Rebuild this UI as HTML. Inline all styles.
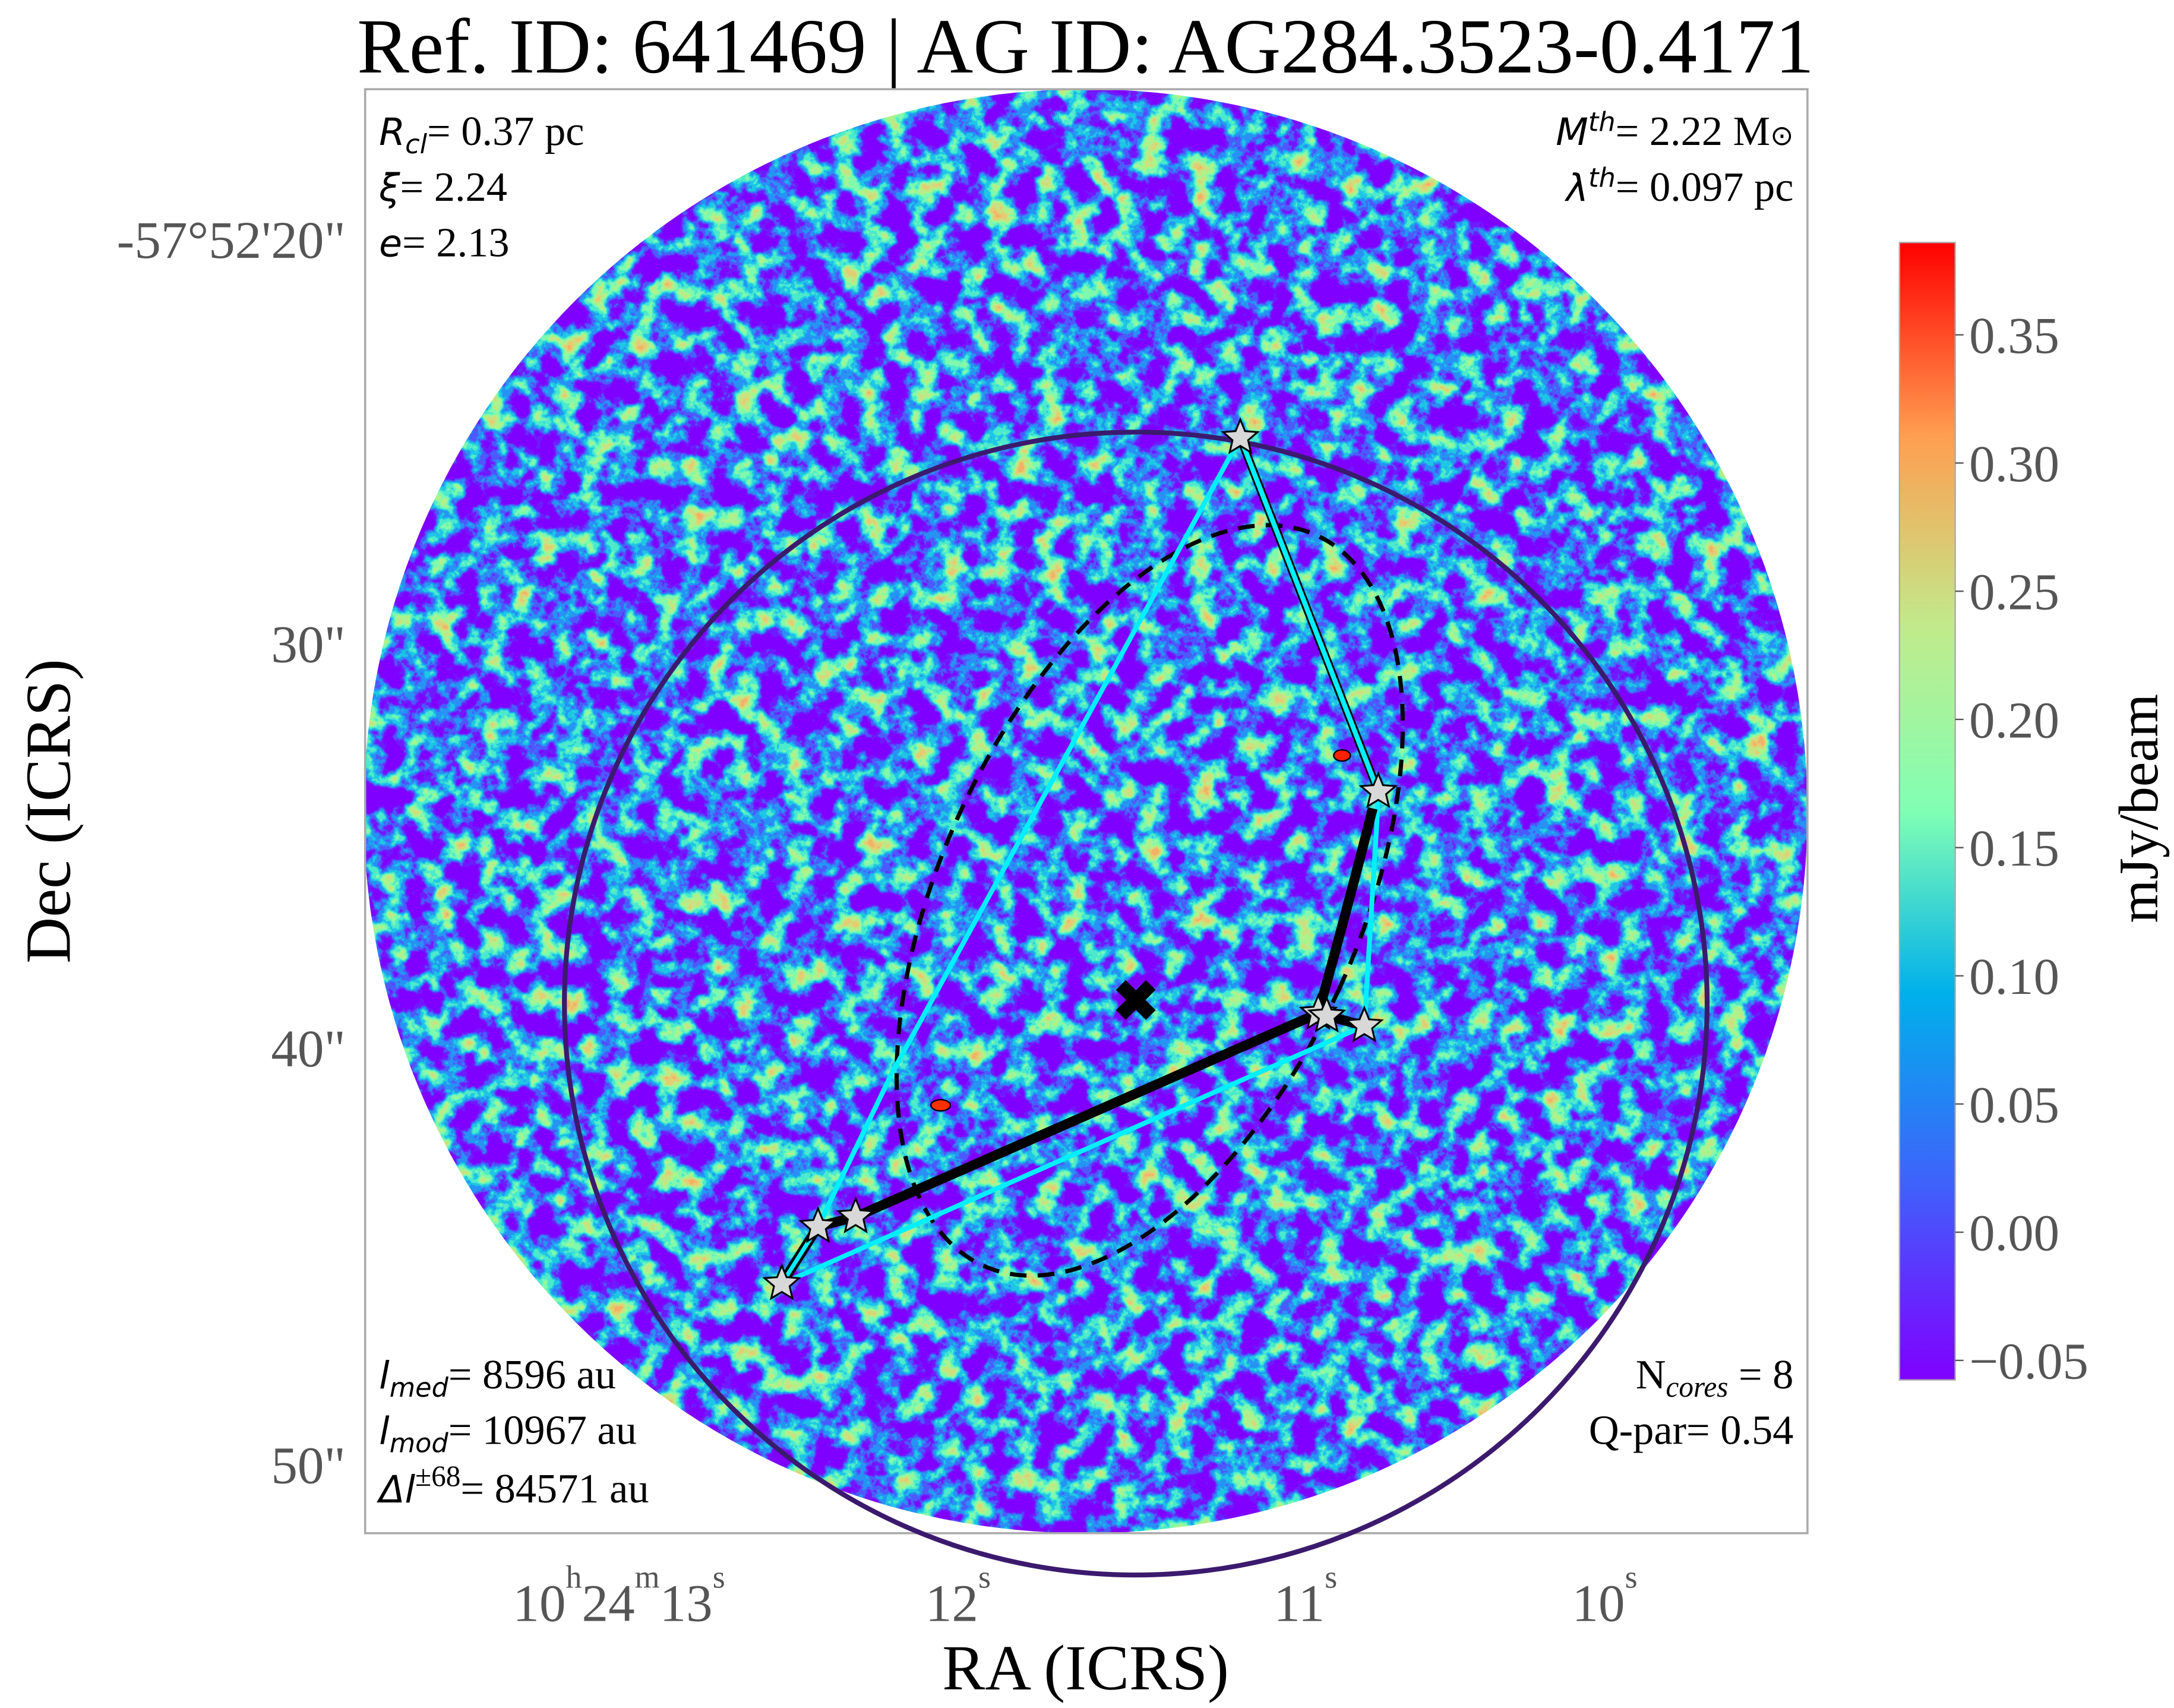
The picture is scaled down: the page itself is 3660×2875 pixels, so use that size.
<!DOCTYPE html>
<html><head><meta charset="utf-8"><style>
html,body{margin:0;padding:0;background:#fff;}
svg{display:block;}
text{font-family:"Liberation Serif",serif;}
</style></head><body>
<svg width="3660" height="2875" viewBox="0 0 1560 1225.4" xmlns="http://www.w3.org/2000/svg">
<defs>
<clipPath id="frameClip"><rect x="262" y="64" width="1035" height="1036"/></clipPath>
<clipPath id="discClip"><circle cx="779" cy="582" r="518"/></clipPath>
<filter id="noise" x="0" y="0" width="100%" height="100%" filterUnits="userSpaceOnUse" color-interpolation-filters="sRGB">
<feTurbulence type="fractalNoise" baseFrequency="0.055" numOctaves="4" seed="7" result="t"/>
<feColorMatrix in="t" type="matrix" values="1 0 0 0 0  1 0 0 0 0  1 0 0 0 0  0 0 0 0 1" result="g"/>
<feComponentTransfer in="g">
<feFuncR type="discrete" tableValues="0.5 0.5 0.5 0.5 0.5 0.5 0.5 0.5 0.44 0.3 0.15 0.12 0.3 0.5 0.68 0.8 0.9 0.95 0.95 0.95"/>
<feFuncG type="discrete" tableValues="0 0 0 0 0 0 0 0 0.1 0.35 0.58 0.78 0.92 0.98 0.95 0.88 0.8 0.7 0.7 0.7"/>
<feFuncB type="discrete" tableValues="1 1 1 1 1 1 1 1 1 0.99 0.96 0.9 0.8 0.68 0.55 0.5 0.45 0.4 0.4 0.4"/>
<feFuncA type="discrete" tableValues="1"/>
</feComponentTransfer>
</filter>
<linearGradient id="cbar" x1="0" y1="1" x2="0" y2="0">
<stop offset="0" stop-color="#8000ff"/><stop offset="0.17" stop-color="#4060fb"/>
<stop offset="0.34" stop-color="#00b0eb"/><stop offset="0.5" stop-color="#80ffb4"/>
<stop offset="0.66" stop-color="#c0eb8c"/><stop offset="0.83" stop-color="#ff9e50"/>
<stop offset="1" stop-color="#ff0000"/>
</linearGradient>
</defs>

<text x="779" y="52" font-size="56" text-anchor="middle" fill="#000">Ref. ID: 641469 | AG ID: AG284.3523-0.4171</text>

<g clip-path="url(#frameClip)">
<g clip-path="url(#discClip)">
<rect x="261" y="64" width="1036" height="1036" filter="url(#noise)"/>
</g>
</g>
<rect x="262" y="64" width="1035" height="1036" fill="none" stroke="#aaa" stroke-width="1.5"/>

<g id="marks"></g>

<rect x="1363" y="174" width="40" height="816" fill="url(#cbar)" stroke="#aaa" stroke-width="1"/>
<g id="cbticks"></g>
<text transform="translate(1548,580) rotate(-90)" font-size="40" text-anchor="middle">mJy/beam</text>

<g fill="#555" font-size="38">
<text x="248" y="185" text-anchor="end">-57°52'20"</text>
<text x="248" y="475" text-anchor="end">30"</text>
<text x="248" y="765" text-anchor="end">40"</text>
<text x="248" y="1064" text-anchor="end">50"</text>
</g>
<g fill="#555" font-size="38">
<text x="368" y="1163">10<tspan font-size="23" dy="-24">h</tspan><tspan dy="24">24</tspan><tspan font-size="23" dy="-24">m</tspan><tspan dy="24">13</tspan><tspan font-size="23" dy="-24">s</tspan></text>
<text x="664" y="1163">12<tspan font-size="23" dy="-24">s</tspan></text>
<text x="914" y="1163">11<tspan font-size="23" dy="-24">s</tspan></text>
<text x="1128" y="1163">10<tspan font-size="23" dy="-24">s</tspan></text>
</g>
<text x="779" y="1212" font-size="46" text-anchor="middle">RA (ICRS)</text>
<text transform="translate(50,582) rotate(-90)" font-size="46" text-anchor="middle">Dec (ICRS)</text>

<g font-size="30" fill="#000">
<text x="272" y="104"><tspan font-family="DejaVu Sans" font-style="italic" font-size="27">R</tspan><tspan font-family="DejaVu Sans" font-style="italic" font-size="19" dy="6">cl</tspan><tspan dy="-6">= 0.37 pc</tspan></text>
<text x="272" y="144"><tspan font-family="DejaVu Sans" font-style="italic" font-size="27">ξ</tspan>= 2.24</text>
<text x="272" y="184"><tspan font-family="DejaVu Sans" font-style="italic" font-size="27">e</tspan>= 2.13</text>
<text x="1287" y="104" text-anchor="end"><tspan font-family="DejaVu Sans" font-style="italic" font-size="27">M</tspan><tspan font-family="DejaVu Sans" font-style="italic" font-size="19" dy="-10">th</tspan><tspan dy="10">= 2.22 M</tspan><tspan font-family="DejaVu Sans" font-size="20">⊙</tspan></text>
<text x="1287" y="144" text-anchor="end"><tspan font-family="DejaVu Sans" font-style="italic" font-size="27">λ</tspan><tspan font-family="DejaVu Sans" font-style="italic" font-size="19" dy="-10">th</tspan><tspan dy="10">= 0.097 pc</tspan></text>
<text x="272" y="996"><tspan font-family="DejaVu Sans" font-style="italic" font-size="27">l</tspan><tspan font-family="DejaVu Sans" font-style="italic" font-size="19" dy="6">med</tspan><tspan dy="-6">= 8596 au</tspan></text>
<text x="272" y="1036"><tspan font-family="DejaVu Sans" font-style="italic" font-size="27">l</tspan><tspan font-family="DejaVu Sans" font-style="italic" font-size="19" dy="6">mod</tspan><tspan dy="-6">= 10967 au</tspan></text>
<text x="272" y="1078"><tspan font-family="DejaVu Sans" font-style="italic" font-size="27">Δl</tspan><tspan font-size="21" dy="-12">±68</tspan><tspan dy="12">= 84571 au</tspan></text>
<text x="1287" y="996" text-anchor="end">N<tspan font-style="italic" font-size="21" dy="6">cores</tspan><tspan dy="-6"> = 8</tspan></text>
<text x="1287" y="1036" text-anchor="end">Q-par= 0.54</text>
</g>

<script>
const cbTicks=[0.35,0.30,0.25,0.20,0.15,0.10,0.05,0.00,-0.05];
const cbMin=-0.0576, cbMax=0.386;
const coresX=[890,989,946,979,614,587,561,952];
const coresY=[314,568,727,736,873,880,921,729];
const ns="http://www.w3.org/2000/svg";
function cbY(v){return 990-(v-cbMin)/(cbMax-cbMin)*816;}
const cbg=document.getElementById('cbticks');
cbTicks.forEach(v=>{
  const l=document.createElementNS(ns,'line');
  
  
  l.setAttribute('x1',1403);l.setAttribute('x2',1409);l.setAttribute('y1',cbY(v));l.setAttribute('y2',cbY(v));
  l.setAttribute('stroke','#555');cbg.appendChild(l);
  const t=document.createElementNS(ns,'text');
  
  
  t.setAttribute('x',1413);t.setAttribute('y',cbY(v)+13);t.setAttribute('font-size','37');t.setAttribute('fill','#555');
  t.textContent=v<0?'\u2212'+Math.abs(v).toFixed(2):v.toFixed(2);cbg.appendChild(t);
});
const m=document.getElementById('marks');
function el(tag,attrs,name){const e=document.createElementNS(ns,tag);for(const k in attrs)e.setAttribute(k,attrs[k]);
  
  
  m.appendChild(e);return e;}
function P(i){return coresX[i]+','+coresY[i];}
el('circle',{cx:815,cy:720,r:410,fill:'none',stroke:'#3b1a6e','stroke-width':3.5},'clump-circle');
el('ellipse',{cx:825,cy:646,rx:150,ry:288,transform:'rotate(24.6 825 646)',fill:'none',stroke:'#000','stroke-width':3,'stroke-dasharray':'12,8'},'fit-ellipse');
el('polyline',{points:P(0)+' 640,770 '+P(5)+' '+P(6)+' '+P(3)+' 988,590 '+P(1),fill:'none',stroke:'#00f0ff','stroke-width':3.5},'hull-line');
el('line',{x1:coresX[0],y1:coresY[0],x2:coresX[1],y2:coresY[1],stroke:'#000','stroke-width':6},'mst-edge-outline');
el('line',{x1:coresX[0],y1:coresY[0],x2:coresX[1],y2:coresY[1],stroke:'#00f0ff','stroke-width':3.5},'mst-edge');
el('polyline',{points:P(6)+' '+P(5)+' '+P(4)+' '+P(2)+' '+P(3),fill:'none',stroke:'#000','stroke-width':7,'stroke-linejoin':'round'},'filament-spine');
el('path',{d:'M'+P(2)+' Q 970,640 '+(coresX[1]-4)+','+(coresY[1]+12),fill:'none',stroke:'#000','stroke-width':7},'filament-spine-upper');
el('polyline',{points:P(6)+' '+P(5),fill:'none',stroke:'#00f0ff','stroke-width':3},'hull-line-short');
el('ellipse',{cx:963,cy:542,rx:6,ry:4,fill:'#ff2000',stroke:'#000','stroke-width':1},'bright-source');
el('ellipse',{cx:675,cy:793,rx:7,ry:4,fill:'#ff3000',stroke:'#000','stroke-width':1},'bright-source');
el('text',{x:815,y:732,'font-size':40,'text-anchor':'middle','font-family':'DejaVu Sans','font-weight':'bold',fill:'#000'},'clump-center-marker').textContent='✖';
function star(cx,cy,r){let p=[];for(let i=0;i<10;i++){const a=-Math.PI/2+i*Math.PI/5;const rr=i%2?r*0.45:r;p.push((cx+rr*Math.cos(a)).toFixed(1)+','+(cy+rr*Math.sin(a)).toFixed(1));}return p.join(' ');}
coresX.forEach((x,i)=>{
  el('polygon',{points:star(x,coresY[i],13),fill:'#d8d8d8',stroke:'#000','stroke-width':1.3},'core-star');
});
</script>
</svg>
</body></html>
